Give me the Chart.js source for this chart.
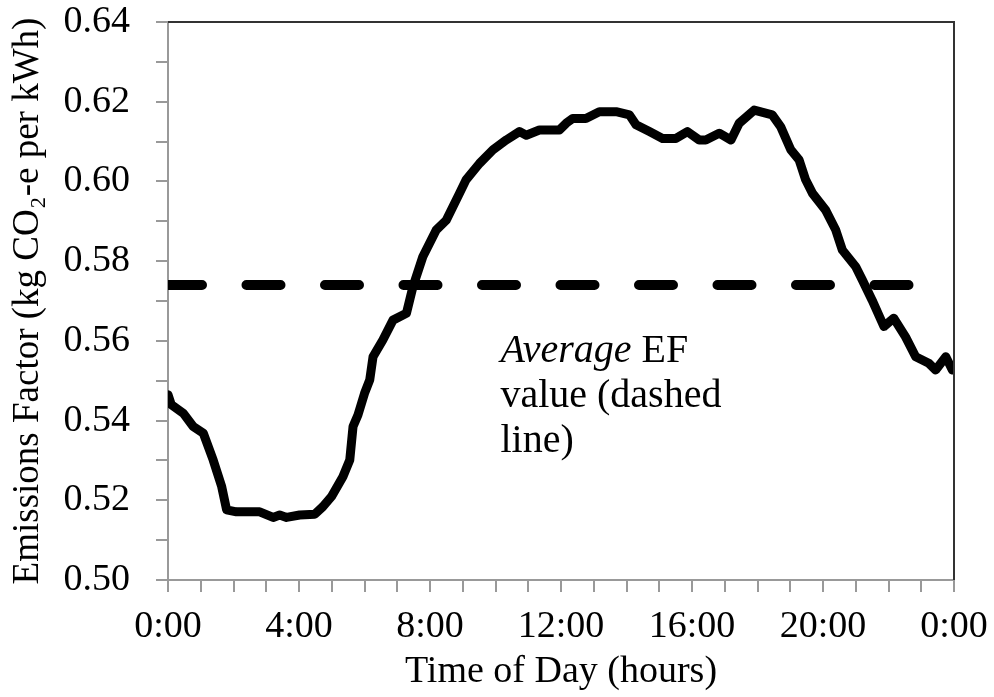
<!DOCTYPE html>
<html>
<head>
<meta charset="utf-8">
<script src="https://cdn.jsdelivr.net/npm/chart.js@4.4.1/dist/chart.umd.min.js"></script>
<style>
  body { margin:0; background:#fff; }
  #wrap { width:994px; height:697px; }
</style>
</head>
<body>
<div id="wrap"><canvas id="myChart" width="994" height="697"></canvas></div>
<script>
// hourly emissions factor
const hours = [0.0,0.1,0.47,0.77,1.08,1.38,1.64,1.79,2.09,2.5,2.8,3.21,3.41,3.62,4.02,4.48,4.73,4.99,5.34,5.55,5.65,5.8,6.0,6.16,6.26,6.56,6.87,7.28,7.48,7.78,8.19,8.5,8.9,9.1,9.51,9.92,10.33,10.73,10.94,11.34,11.95,12.16,12.36,12.76,13.17,13.68,14.09,14.29,14.7,15.1,15.51,15.86,16.22,16.42,16.83,17.19,17.44,17.9,18.45,18.71,19.02,19.27,19.47,19.68,20.08,20.39,20.59,21.0,21.2,21.5,21.86,22.16,22.52,22.83,23.23,23.44,23.75,23.95];
const efValues = [0.5465,0.5440,0.5418,0.5385,0.5368,0.5301,0.5234,0.5176,0.5171,0.5171,0.5171,0.5157,0.5163,0.5157,0.5163,0.5165,0.5184,0.5209,0.5259,0.5301,0.5385,0.5414,0.5468,0.5502,0.5560,0.5602,0.5652,0.5669,0.5736,0.5811,0.5878,0.5903,0.5970,0.6004,0.6045,0.6079,0.6104,0.6125,0.6116,0.6129,0.6129,0.6146,0.6158,0.6158,0.6175,0.6175,0.6167,0.6142,0.6125,0.6108,0.6108,0.6125,0.6104,0.6104,0.6121,0.6104,0.6146,0.6179,0.6167,0.6137,0.6079,0.6054,0.6004,0.5970,0.5928,0.5878,0.5828,0.5786,0.5753,0.5702,0.5636,0.5657,0.5610,0.5560,0.5544,0.5527,0.5560,0.5527];

const avgEF = 0.574;
const avgHours = [0, 23.5];

const noteLines = [
  [{t:'Average', it:true}, {t:' EF', it:false}],
  [{t:'value (dashed', it:false}],
  [{t:'line)', it:false}]
];
const noteAt = {x:10.15, y:0.5547};

const serif = '"Liberation Serif", "Times New Roman", serif';

const curve = hours.map(function(h,i){ return {x:h, y:efValues[i]}; });
const avgLine = avgHours.map(function(h){ return {x:h, y:avgEF}; });

// top/right frame and the text note
const extras = {
  id:'extras',
  afterDatasetsDraw(chart){
    const c = chart.ctx, a = chart.chartArea;
    c.save();
    c.strokeStyle = '#333';
    c.lineWidth = 2;
    c.beginPath();
    c.moveTo(a.left, a.top); c.lineTo(a.right, a.top); c.lineTo(a.right, a.bottom);
    c.stroke();

    const sx = chart.scales.x, sy = chart.scales.y;
    let x0 = sx.getPixelForValue(noteAt.x);
    let y = sy.getPixelForValue(noteAt.y);
    c.fillStyle = '#000';
    c.textBaseline = 'alphabetic';
    noteLines.forEach(function(line){
      let x = x0;
      line.forEach(function(part){
        c.font = (part.it ? 'italic ' : '') + '40px ' + serif;
        c.fillText(part.t, x, y);
        x += c.measureText(part.t).width;
      });
      y += 45;
    });
    c.restore();
  }
};

const ctx = document.getElementById('myChart').getContext('2d');
const efChart = new Chart(ctx, {
  type:'line',
  data:{
    datasets:[{
      label:'Emissions factor',
      data:curve,
      borderColor:'#000',
      borderWidth:9,
      borderJoinStyle:'round',
      borderCapStyle:'round',
      pointRadius:0,
      tension:0
    },{
      label:'Average',
      data:avgLine,
      borderColor:'#000',
      borderWidth:10,
      borderCapStyle:'round',
      borderDash:[34,44.5],
      pointRadius:0,
      clip:0
    }]
  },
  options:{
    responsive:false,
    animation:false,
    layout:{ padding:{ top:22, right:40, left:0, bottom:0 } },
    plugins:{ legend:{display:false}, tooltip:{enabled:false} },
    scales:{
      x:{
        type:'linear', min:0, max:24,
        afterFit(s){ s.height = 117; s.paddingLeft = 0; s.paddingRight = 0; },
        ticks:{
          stepSize:1, autoSkip:false, maxRotation:0, padding:12,
          color:'#000', font:{family:serif, size:38},
          callback(v){ return v % 4 === 0 ? (v % 24) + ':00' : ''; }
        },
        grid:{ drawOnChartArea:false, tickLength:12, color:'#999', lineWidth:2 },
        border:{ color:'#999', width:2 },
        title:{ display:true, text:'Time of Day (hours)', color:'#000',
                font:{family:serif, size:38}, padding:{top:0, bottom:2} }
      },
      y:{
        min:0.5, max:0.64,
        afterFit(s){ s.width = 168; s.paddingTop = 0; s.paddingBottom = 0; },
        ticks:{
          stepSize:0.01, autoSkip:false, padding:26,
          color:'#000', font:{family:serif, size:38},
          callback(v){ return Math.round(v*100) % 2 === 0 ? v.toFixed(2) : ''; }
        },
        grid:{ drawOnChartArea:false, tickLength:12, color:'#999', lineWidth:2 },
        border:{ color:'#999', width:2 },
        title:{ display:true, text:'Emissions Factor (kg CO\u2082-e per kWh)', color:'#000',
                font:{family:serif, size:37}, padding:{top:6, bottom:0} }
      }
    }
  },
  plugins:[extras]
});
</script>
</body>
</html>
